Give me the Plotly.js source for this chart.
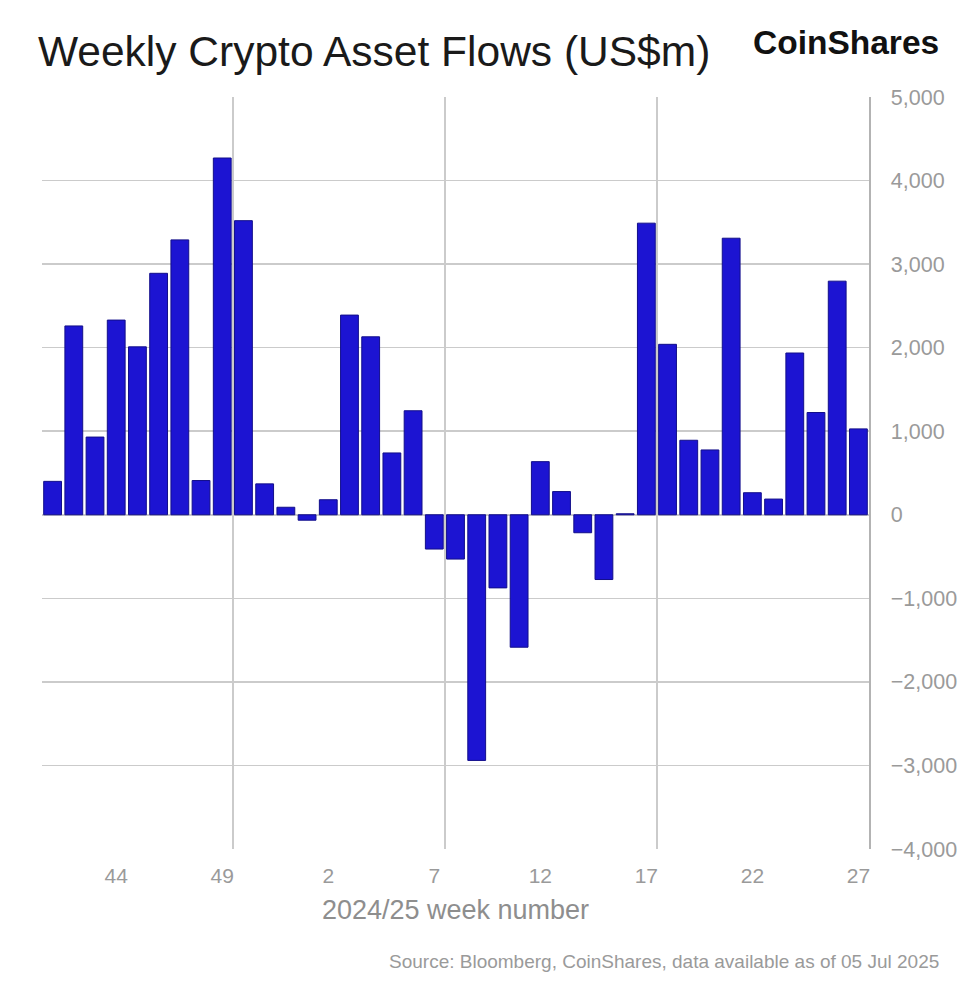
<!DOCTYPE html>
<html>
<head>
<meta charset="utf-8">
<script src="https://cdn.plot.ly/plotly-3.0.1.min.js"></script>
<style>
  html, body { margin: 0; padding: 0; background: #ffffff; }
  #chart { width: 977px; height: 983px; }
</style>
</head>
<body>
<div id="chart"></div>
<script>
// 2024/25 ISO week numbers (week 41 of 2024 through week 27 of 2025)
const weeks = ['41','42','43','44','45','46','47','48','49','50','51','52',
               '1','2','3','4','5','6','7','8','9','10','11','12','13','14','15',
               '16','17','18','19','20','21','22','23','24','25','26','27'];
// Weekly net flows, US$m
const flows = [400, 2260, 930, 2330, 2010, 2890, 3290, 410, 4270, 3520, 370, 90,
               -65, 180, 2390, 2130, 740, 1245, -410, -530, -2940, -875, -1585, 636, 278, -215, -775,
               12, 3490, 2040, 892, 776, 3310, 264, 188, 1936, 1224, 2796, 1028];
// Tick labels shown on the week axis
const tickLabels = ['44','49','2','7','12','17','22','27'];
// Weeks after which a vertical divider is drawn
const dividerWeeks = ['49','7','17'];

const FONT = '"Liberation Sans", Arial, sans-serif';

const xIdx = weeks.map((w, i) => i);

const trace = {
  type: 'bar',
  x: xIdx,
  y: flows,
  marker: { color: '#1c14d2', line: { color: '#120e8a', width: 1 } },
  hoverinfo: 'y'
};

const layout = {
  width: 977,
  height: 983,
  margin: { l: 42, r: 108, t: 97, b: 134 },
  paper_bgcolor: '#ffffff',
  plot_bgcolor: '#ffffff',
  showlegend: false,
  bargap: 0.16,
  font: { family: FONT, color: '#999999' },
  title: {
    text: 'Weekly Crypto Asset Flows (US$m)',
    font: { family: FONT, size: 42.5, color: '#1a1a1a' },
    x: 38 / 977, xanchor: 'left', xref: 'container',
    y: 1 - 51 / 983, yanchor: 'middle', yref: 'container'
  },
  xaxis: {
    type: 'linear',
    range: [-0.5, weeks.length - 0.5],
    tickmode: 'array',
    tickvals: tickLabels.map(t => weeks.indexOf(t)),
    ticktext: tickLabels,
    showgrid: false,
    zeroline: false,
    showline: false,
    ticks: '',
    ticklabelstandoff: 12,
    tickfont: { family: FONT, size: 21, color: '#9a9a9a' },
    minor: {
      tickmode: 'array',
      tickvals: dividerWeeks.map(w => weeks.indexOf(w) + 0.5),
      showgrid: true,
      gridcolor: '#cbcbcb',
      gridwidth: 1.5,
      ticks: ''
    },
    title: {
      text: '2024/25 week number',
      font: { family: FONT, size: 27, color: '#8e8e8e' },
      standoff: 14
    },
    fixedrange: true
  },
  yaxis: {
    side: 'right',
    range: [-4000, 5000],
    tickmode: 'linear',
    tick0: 0,
    dtick: 1000,
    tickformat: ',d',
    showgrid: true,
    gridcolor: '#cbcbcb',
    gridwidth: 1.5,
    zeroline: true,
    zerolinecolor: '#cbcbcb',
    zerolinewidth: 1.5,
    showline: true,
    linecolor: '#b3b3b3',
    linewidth: 1.5,
    ticks: '',
    ticklabelstandoff: 16,
    tickfont: { family: FONT, size: 21.5, color: '#9a9a9a' },
    fixedrange: true
  },
  annotations: [
    {
      text: '<b>CoinShares</b>',
      xref: 'paper', yref: 'paper',
      x: 1, xanchor: 'right',
      y: 1 + (97 - 43) / 752, yanchor: 'middle',
      xshift: 72,
      showarrow: false,
      font: { family: FONT, size: 33.5, color: '#111111' }
    },
    {
      text: 'Source: Bloomberg, CoinShares, data available as of 05 Jul 2025',
      xref: 'paper', yref: 'paper',
      x: 1, xanchor: 'right',
      y: -(961 - 849) / 752, yanchor: 'middle',
      xshift: 72,
      showarrow: false,
      font: { family: FONT, size: 19, color: '#9a9a9a' }
    }
  ]
};

Plotly.newPlot('chart', [trace], layout, { displayModeBar: false, staticPlot: true });
</script>
</body>
</html>
